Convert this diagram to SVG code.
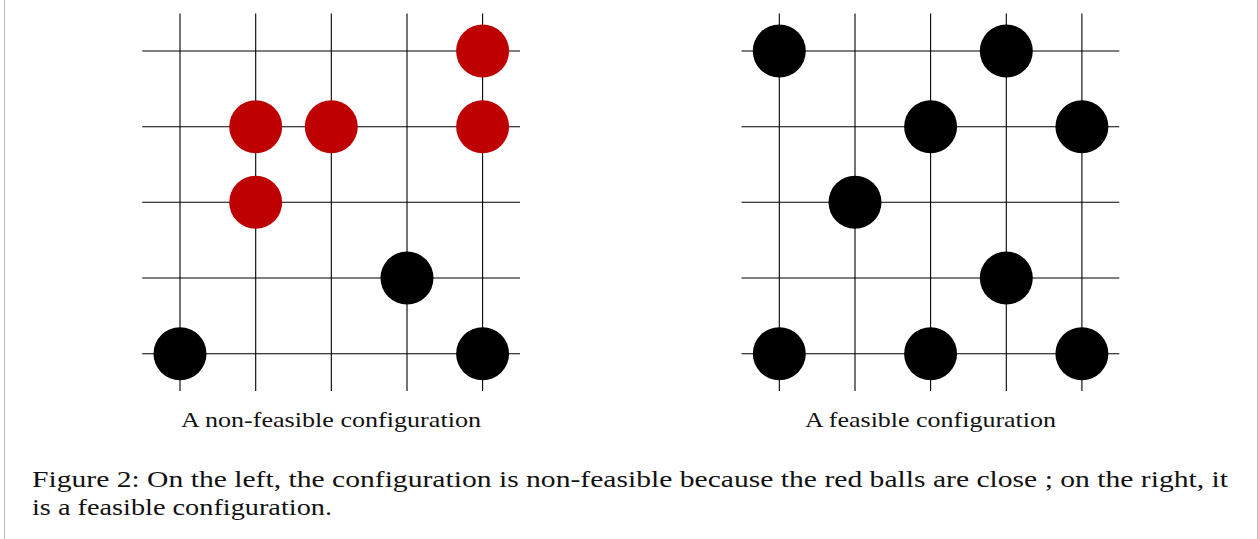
<svg xmlns="http://www.w3.org/2000/svg" width="1258" height="539" viewBox="0 0 1258 539">
<style>
.g line{stroke:#000;stroke-width:1.1}
.red{fill:#bf0000}
.blk{fill:#000}
.t{font-family:"Liberation Serif","DejaVu Serif",serif;fill:#111}
.sub{font-size:21px;text-anchor:middle}
.cap{font-size:22.5px}
</style>
<rect width="1258" height="539" fill="#fff"/>
<line x1="4.5" y1="0" x2="4.5" y2="539" stroke="#bbb" stroke-width="1"/>
<line x1="1257.5" y1="0" x2="1257.5" y2="539" stroke="#bbb" stroke-width="1"/>
<defs>
<g id="grid" class="g">
<line x1="0" y1="51" x2="377.8" y2="51"/>
<line x1="0" y1="126.7" x2="377.8" y2="126.7"/>
<line x1="0" y1="202.3" x2="377.8" y2="202.3"/>
<line x1="0" y1="278" x2="377.8" y2="278"/>
<line x1="0" y1="353.7" x2="377.8" y2="353.7"/>
<line x1="37.8" y1="13.5" x2="37.8" y2="391"/>
<line x1="113.5" y1="13.5" x2="113.5" y2="391"/>
<line x1="189.1" y1="13.5" x2="189.1" y2="391"/>
<line x1="264.8" y1="13.5" x2="264.8" y2="391"/>
<line x1="340.4" y1="13.5" x2="340.4" y2="391"/>
</g>
</defs>
<g id="connectors">
<use href="#grid" x="142.2" y="0"/>
<use href="#grid" x="741.5" y="0"/>
</g>
<g id="left-balls">
<circle id="L40" class="red" cx="482.6" cy="51" r="26.5"/>
<circle id="L11" class="red" cx="255.7" cy="126.7" r="26.5"/>
<circle id="L21" class="red" cx="331.3" cy="126.7" r="26.5"/>
<circle id="L41" class="red" cx="482.6" cy="126.7" r="26.5"/>
<circle id="L12" class="red" cx="255.7" cy="202.3" r="26.5"/>
<circle id="L33" class="blk" cx="407" cy="278" r="26.5"/>
<circle id="L04" class="blk" cx="180" cy="353.7" r="26.5"/>
<circle id="L44" class="blk" cx="482.6" cy="353.7" r="26.5"/>
</g>
<g id="right-balls">
<circle id="R00" class="blk" cx="779.3" cy="51" r="26.5"/>
<circle id="R30" class="blk" cx="1006.3" cy="51" r="26.5"/>
<circle id="R21" class="blk" cx="930.6" cy="126.7" r="26.5"/>
<circle id="R41" class="blk" cx="1081.9" cy="126.7" r="26.5"/>
<circle id="R12" class="blk" cx="855" cy="202.3" r="26.5"/>
<circle id="R33" class="blk" cx="1006.3" cy="278" r="26.5"/>
<circle id="R04" class="blk" cx="779.3" cy="353.7" r="26.5"/>
<circle id="R24" class="blk" cx="930.6" cy="353.7" r="26.5"/>
<circle id="R44" class="blk" cx="1081.9" cy="353.7" r="26.5"/>
</g>
<g id="labels">
<text class="t sub" x="331" y="427" textLength="300" lengthAdjust="spacingAndGlyphs">A non-feasible configuration</text>
<text class="t sub" x="930.5" y="427" textLength="251" lengthAdjust="spacingAndGlyphs">A feasible configuration</text>
<text class="t cap" x="32" y="487" textLength="1196" lengthAdjust="spacingAndGlyphs">Figure 2: On the left, the configuration is non-feasible because the red balls are close ; on the right, it</text>
<text class="t cap" x="32" y="515" textLength="300" lengthAdjust="spacingAndGlyphs">is a feasible configuration.</text>
</g>
</svg>
